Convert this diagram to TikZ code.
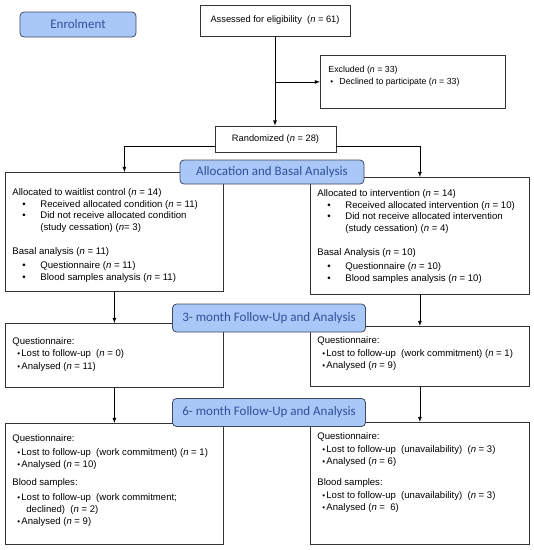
\documentclass[tikz,border=0pt]{standalone}
\usepackage{fontspec}
\setmainfont{Liberation Sans}
\newfontfamily\stagefont{Carlito}
\usetikzlibrary{positioning}
\definecolor{stagefill}{HTML}{A9C7F7}
\definecolor{stageline}{HTML}{3F4A5E}
\definecolor{stagetext}{HTML}{30519A}
\definecolor{boxline}{HTML}{333333}
% text panel: width, height, space on top, lines
\newcommand{\txtbox}[4]{\parbox[c][#2][t]{#1}{\vspace*{#3}\raggedright #4}}
\newcommand{\bul}{\hspace*{10pt}\makebox[18pt][l]{\textbullet}}
\newcommand{\sbul}{\hspace*{5pt}\makebox[4pt][l]{\footnotesize\textbullet}}
\begin{document}
\begin{tikzpicture}[x=1pt, y=-1pt, >=latex, line width=0.8pt,
  cell/.style={rectangle, draw=boxline, inner sep=0pt, font=\fontsize{9.3}{11.8}\selectfont},
  panel/.style={rectangle, draw=boxline, anchor=north west, inner xsep=7pt, inner ysep=0pt, font=\fontsize{9.55}{12.5}\selectfont},
  stage/.style={rectangle, rounded corners=4pt, draw=stageline, fill=stagefill, text=stagetext, minimum width=193pt, minimum height=28pt, inner sep=0pt, font=\stagefont\fontsize{13}{14}\selectfont}]
\useasboundingbox (0,0) rectangle (534,550);
\node (1) [cell, minimum width=150pt, minimum height=31pt] at (275,20.5) {Assessed for eligibility \ (\textit{n} = 61)};
\node (2) [panel, inner xsep=8pt, font=\fontsize{8.8}{12}\selectfont] at (320,55) {\txtbox{169pt}{53pt}{10.5pt}{Excluded (\textit{n} = 33)\\
  \hspace*{2pt}\makebox[9pt][l]{\footnotesize\textbullet}Declined to participate (\textit{n} = 33)}};
\node (3) [cell, minimum width=121pt, minimum height=26pt] at (275.5,139) {Randomized (\textit{n} = 28)};
\node (4) [panel, font=\fontsize{9.6}{11.8}\selectfont] at (5,172) {\txtbox{204pt}{119pt}{16pt}{Allocated to waitlist control (\textit{n} = 14)\\
  \bul Received allocated condition (\textit{n} = 11)\\
  \bul Did not receive allocated condition\\
  \hspace*{28pt}(study cessation) (\textit{n}= 3)\\[12pt]
  Basal analysis (\textit{n} = 11)\\[2.5pt]
  \bul Questionnaire (\textit{n} = 11)\\
  \bul Blood samples analysis (\textit{n} = 11)}};
\node (5) [panel, font=\fontsize{9.6}{11.8}\selectfont] at (310,177) {\txtbox{205pt}{117pt}{12pt}{Allocated to intervention (\textit{n} = 14)\\
  \bul Received allocated intervention (\textit{n} = 10)\\
  \bul Did not receive allocated intervention\\
  \hspace*{28pt}(study cessation) (\textit{n} = 4)\\[12pt]
  Basal Analysis (\textit{n} = 10)\\[2.5pt]
  \bul Questionnaire (\textit{n} = 10)\\
  \bul Blood samples analysis (\textit{n} = 10)}};
\node (6) [panel] at (5,323) {\txtbox{204pt}{64pt}{14pt}{Questionnaire:\\
  \sbul Lost to follow-up \ (\textit{n} = 0)\\
  \sbul Analysed (\textit{n} = 11)}};
\node (7) [panel] at (310,326) {\txtbox{205pt}{60pt}{10.5pt}{Questionnaire:\\
  \sbul Lost to follow-up \ (work commitment) (\textit{n} = 1)\\
  \sbul Analysed (\textit{n} = 9)}};
\node (8) [panel, font=\fontsize{9.55}{11.7}\selectfont] at (5,423) {\txtbox{204pt}{121pt}{11pt}{Questionnaire:\\[2.7pt]
  \sbul Lost to follow-up \ (work commitment) (\textit{n} = 1)\\
  \sbul Analysed (\textit{n} = 10)\\[6.7pt]
  Blood samples:\\[3.3pt]
  \sbul Lost to follow-up \ (work commitment;\\
  \hspace*{14pt}declined) \ (\textit{n} = 2)\\
  \sbul Analysed (\textit{n} = 9)}};
\node (9) [panel, font=\fontsize{9.55}{12.7}\selectfont] at (310,422) {\txtbox{205pt}{122pt}{10pt}{Questionnaire:\\
  \sbul Lost to follow-up \ (unavailability) \ (\textit{n} = 3)\\
  \sbul Analysed (\textit{n} = 6)\\[8pt]
  Blood samples:\\
  \sbul Lost to follow-up \ (unavailability) \ (\textit{n} = 3)\\
  \sbul Analysed (\textit{n} = \ 6)}};
\draw[->] (1.south) -- (1.south |- 3.north);
\draw[->] (1.south |- 2.west) -- (2.west);
\draw[->] ([yshift=-7pt]3.west) -| ([xshift=10pt]4.north);
\draw[->] ([yshift=-7pt]3.east) -| (5.north);
\draw[->] (4.south) -- (6.north);
\draw[->] (5.south) -- (7.north);
\draw[->] (6.south) -- (8.north);
\draw[->] (7.south) -- (9.north);
\node (e) [stage, minimum width=116pt, minimum height=25pt] at (78,24.5) {Enrolment};
\node (s1) [stage, minimum width=184pt, minimum height=24pt] at (272,172) {Allocation and Basal Analysis};
\node (s2) [stage] at (269,318) {3- month Follow-Up and Analysis};
\node (s3) [stage] at (269,412.5) {6- month Follow-Up and Analysis};
\end{tikzpicture}
\end{document}
